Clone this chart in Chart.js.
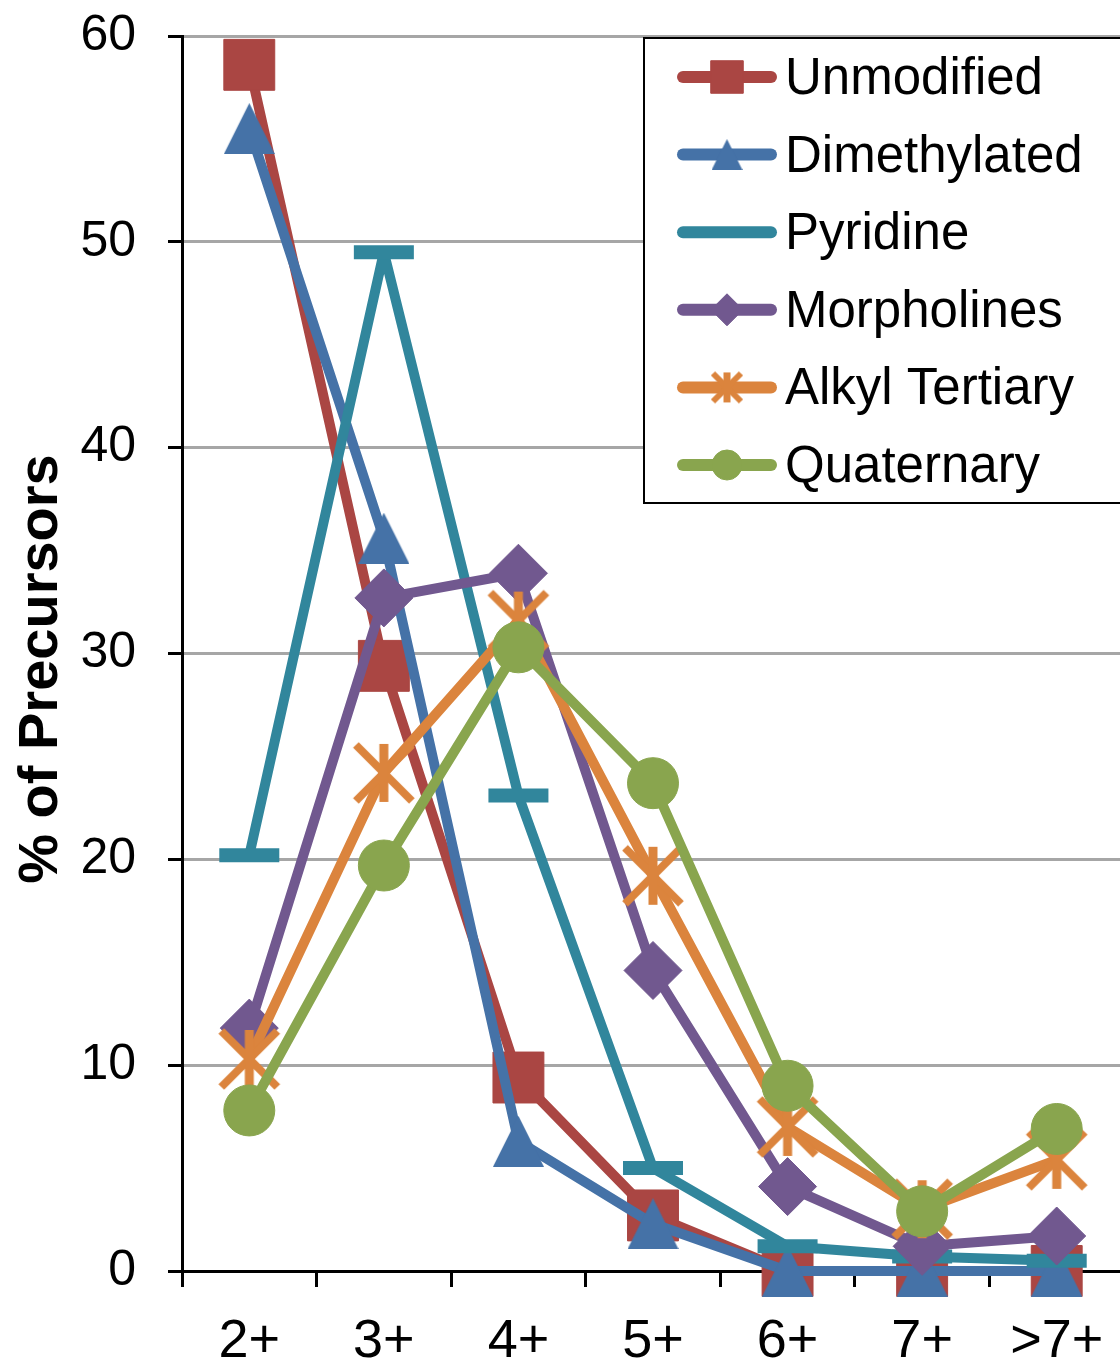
<!DOCTYPE html>
<html>
<head>
<meta charset="utf-8">
<script src="https://cdn.jsdelivr.net/npm/chart.js@4/dist/chart.umd.min.js"></script>
<style>
  html, body { margin: 0; padding: 0; background: #fff; overflow: hidden; }
  #wrap { width: 1120px; height: 1361px; overflow: hidden; }
</style>
</head>
<body>
<div id="wrap"><canvas id="chart" width="1124" height="1361"></canvas></div>
<script>
// Charge-state categories and % of precursors per amine class
const chargeStates = ['2+', '3+', '4+', '5+', '6+', '7+', '>7+'];
const unmodified   = [58.6, 29.4, 9.4, 2.7, 0, 0, 0];
const dimethylated = [55.5, 35.6, 6.3, 2.3, 0, 0, 0];
const pyridine     = [20.2, 49.5, 23.1, 5.0, 1.2, 0.7, 0.5];
const morpholines  = [11.8, 32.7, 33.9, 14.6, 4.1, 1.2, 1.7];
const alkylTert    = [10.3, 24.2, 31.6, 19.2, 7.0, 3.0, 5.4];
const quaternary   = [7.8, 19.7, 30.3, 23.7, 9.0, 2.9, 6.9];
const yTicks       = [0, 10, 20, 30, 40, 50, 60];

const FONT = "'Liberation Sans', Arial, sans-serif";

// Excel-style "star" marker: an X with a vertical bar
function makeStar(size, lw, color) {
  const c = document.createElement('canvas');
  c.width = size; c.height = size;
  const g = c.getContext('2d');
  g.strokeStyle = color;
  g.lineWidth = lw;
  const m = 4;
  g.beginPath();
  g.moveTo(m, m); g.lineTo(size - m, size - m);
  g.moveTo(size - m, m); g.lineTo(m, size - m);
  g.stroke();
  g.lineWidth = lw + 1;
  g.beginPath();
  g.moveTo(size / 2, 3); g.lineTo(size / 2, size - 3);
  g.stroke();
  return c;
}

// Excel-style triangle: centred on its bounding box, about as tall as wide
function makeTriangle(size, color) {
  const c = document.createElement('canvas');
  c.width = size; c.height = size;
  const g = c.getContext('2d');
  g.fillStyle = color;
  g.beginPath();
  g.moveTo(size / 2, 0);
  g.lineTo(size, size);
  g.lineTo(0, size);
  g.closePath();
  g.fill();
  return c;
}

const series = [
  { label: 'Unmodified',     data: unmodified,   color: '#AA4643', style: 'rect',     r: 36,   lr: 23 },
  { label: 'Dimethylated',   data: dimethylated, color: '#4572A7', style: 'tri',      r: 30,   lr: 19 },
  { label: 'Pyridine',       data: pyridine,     color: '#31869C', style: 'line',     r: 30,   lr: 0, bw: 14 },
  { label: 'Morpholines',    data: morpholines,  color: '#71588F', style: 'rectRot',  r: 29,   lr: 16 },
  { label: 'Alkyl Tertiary', data: alkylTert,    color: '#DB843D', style: 'star',     r: 31,   lr: 17 },
  { label: 'Quaternary',     data: quaternary,   color: '#89A54E', style: 'circle',   r: 25.5, lr: 15 }
];

series.forEach(s => {
  if (s.style === 'star') {
    s.img = makeStar(64, 8, s.color);
    s.legendImg = makeStar(36, 6, s.color);
  }
  if (s.style === 'tri') {
    s.img = makeTriangle(51, s.color);
    s.legendImg = makeTriangle(31, s.color);
  }
});

// Legend drawn inside the plot, top-right, boxed like the original
const boxLegend = {
  id: 'boxLegend',
  afterDraw(chart) {
    const ctx = chart.ctx;
    ctx.save();
    ctx.fillStyle = '#fff';
    ctx.fillRect(644, 38, 500, 465);
    ctx.strokeStyle = '#000';
    ctx.lineWidth = 2;
    ctx.strokeRect(644, 38, 500, 465);

    const drawPoint = Chart.helpers && Chart.helpers.drawPoint;
    series.forEach((s, i) => {
      const y = 77 + i * 77.6;
      ctx.strokeStyle = s.color;
      ctx.fillStyle = s.color;
      ctx.lineWidth = 12;
      ctx.lineCap = 'round';
      ctx.beginPath();
      ctx.moveTo(683, y);
      ctx.lineTo(771, y);
      ctx.stroke();
      if (drawPoint && s.lr > 0) {
        ctx.lineWidth = 1;
        ctx.lineCap = 'butt';
        drawPoint(ctx, {
          pointStyle: s.legendImg || s.style,
          radius: s.lr,
          rotation: 0,
          borderWidth: 1
        }, 727, y);
      }
      ctx.fillStyle = '#000';
      ctx.font = '51px ' + FONT;
      ctx.textAlign = 'left';
      ctx.textBaseline = 'alphabetic';
      ctx.fillText(s.label, 785, y + 17);
    });

    // y-axis title
    ctx.translate(57, 669);
    ctx.rotate(-Math.PI / 2);
    ctx.font = 'bold 56px ' + FONT;
    ctx.textAlign = 'center';
    ctx.fillStyle = '#000';
    ctx.fillText('% of Precursors', 0, 0);
    ctx.restore();
  }
};

new Chart(document.getElementById('chart'), {
  type: 'line',
  data: {
    labels: chargeStates,
    datasets: series.map((s, i) => ({
      label: s.label,
      data: s.data,
      order: series.length - 1 - i,
      borderColor: s.color,
      backgroundColor: s.color,
      borderWidth: 10,
      borderJoinStyle: 'round',
      borderCapStyle: 'round',
      tension: 0,
      fill: false,
      clip: false,
      pointStyle: s.img || s.style,
      pointRadius: s.r,
      pointBackgroundColor: s.color,
      pointBorderColor: s.color,
      pointBorderWidth: s.bw || 1
    }))
  },
  options: {
    responsive: false,
    animation: false,
    events: [],
    layout: { autoPadding: false, padding: { top: 36, left: 0, right: 0, bottom: 0 } },
    plugins: {
      legend: { display: false },
      tooltip: { enabled: false }
    },
    scales: {
      x: {
        offset: true,
        afterFit(scale) {
          scale.height = 90;
          scale.paddingLeft = 0;
          scale.paddingRight = 0;
        },
        grid: {
          offset: true,
          drawOnChartArea: false,
          drawTicks: true,
          tickLength: 16,
          tickColor: '#000',
          tickWidth: 3
        },
        border: { display: true, color: '#000', width: 3 },
        ticks: {
          color: '#000',
          padding: 23,
          maxRotation: 0,
          autoSkip: false,
          font: { family: FONT, size: 54 }
        }
      },
      y: {
        min: 0,
        max: 60,
        afterFit(scale) {
          scale.width = 182;
          scale.paddingTop = 0;
          scale.paddingBottom = 0;
        },
        afterBuildTicks(scale) { scale.ticks = yTicks.map(v => ({ value: v })); },
        grid: {
          color: '#a6a6a6',
          lineWidth: 3,
          drawTicks: true,
          tickLength: 14,
          tickColor: '#000',
          tickWidth: 3
        },
        border: { display: true, color: '#000', width: 3 },
        ticks: {
          color: '#000',
          padding: 32,
          font: { family: FONT, size: 50 }
        }
      }
    }
  },
  plugins: [boxLegend]
});
</script>
</body>
</html>
